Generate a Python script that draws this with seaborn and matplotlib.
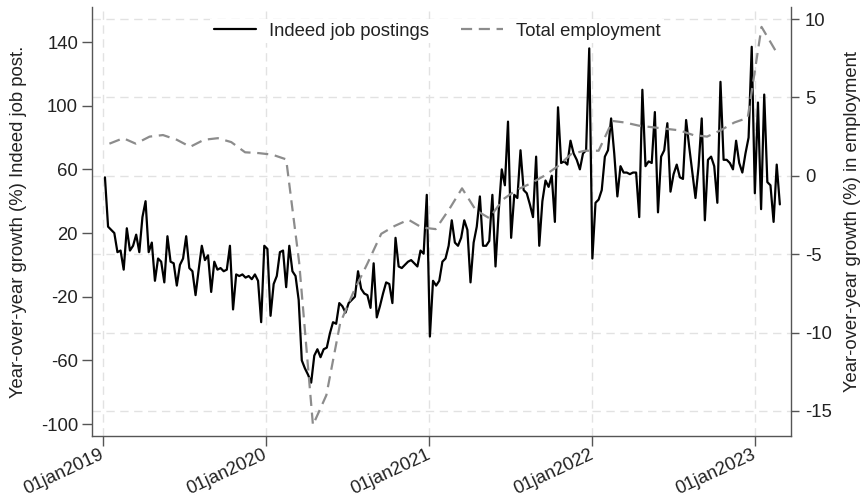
import numpy as np
import pandas as pd
import matplotlib
matplotlib.use("Agg")
import matplotlib.pyplot as plt
from matplotlib.lines import Line2D
from matplotlib.transforms import blended_transform_factory
import seaborn as sns

# Weekly year-over-year growth of Indeed job postings (%), starting 2019-01-05
postings_start = "2019-01-05"
postings_yoy = [
    55, 24, 22, 20, 8, 9, -3, 23, 9, 12, 19, 8, 30, 40, 8, 14, -10, 4, 2, -11,
    18, 2, 1, -13, 0, 4, 18, -2, -4, -19, -3, 12, 3, 6, -17, 2, -3, -2, -4, -3,
    12, -28,
    -6, -7, -6, -8, -7, -9, -6, -10, -36, 12, 10, -32, -12, -7, 8, 9, -14, 12,
    -4, -7, -22, -60, -65, -69, -74, -57, -53, -58, -53, -52, -43, -36, -37,
    -24, -26, -30, -24, -22, -20, -4, -15, -18, -19,
    -27, 1, -33, -26, -18, -11, -12, -24, 17, -1, -2, 0, 2, 3, 1, -1, 9, 7, 44,
    -45, -10, -13, -10, 2, 4, 12, 28, 14, 12, 17, 28, 22, -11, 14, 24, 43, 12,
    12, 15, 44, -1, 33, 60,
    50, 90, 17, 44, 42, 72, 47, 45, 38, 30, 68, 12, 40, 53, 49, 56, 27, 99, 64,
    65, 63, 78, 70, 66, 60, 70, 72, 136, 4, 39, 41, 47, 68, 72, 92, 70, 43, 62,
    58, 58, 57, 58, 58, 30,
    110, 62, 65, 64, 96, 33, 68, 72, 89, 46, 57, 63, 55, 54, 91, 74, 58, 42, 62,
    92, 28, 66, 68, 62, 39, 115, 66, 66, 64, 60, 78, 64, 58, 70, 80, 137, 45,
    102, 35, 107, 52, 50, 27, 63, 38,
]

# Monthly year-over-year growth of total employment (%), Jan 2019 - Feb 2023
employment_start = "2019-01-01"
employment_yoy = [
    2.05, 2.4, 2.05, 2.5, 2.6, 2.3, 1.85, 2.3, 2.4, 2.15, 1.5, 1.45,
    1.35, 1.05, -5.5, -15.9, -14.0, -9.4, -7.4, -5.6, -3.7, -3.2, -2.8, -3.3,
    -3.4, -2.1, -0.8, -2.2, -2.7, -1.5, -0.9, -0.5, 0.0, 0.6, 1.4, 1.6,
    1.6, 3.5, 3.4, 3.2, 3.1, 3.0, 2.9, 2.6, 2.5, 2.9, 3.4, 3.7,
    9.5, 8.0,
]

year_ticks = ["2019-01-01", "2020-01-01", "2021-01-01", "2022-01-01", "2023-01-01"]
year_labels = ["01jan2019", "01jan2020", "01jan2021", "01jan2022", "01jan2023"]
left_ticks = [-100, -60, -20, 20, 60, 100, 140]
right_ticks = [-15, -10, -5, 0, 5, 10]

sns.set_style("white")
plt.rcParams["font.family"] = ["Liberation Sans", "DejaVu Sans"]
plt.rcParams["font.size"] = 13.3

postings = pd.DataFrame({
    "date": pd.date_range(postings_start, periods=len(postings_yoy), freq="7D"),
    "yoy": postings_yoy,
})
employment = pd.DataFrame({
    "date": pd.date_range(employment_start, periods=len(employment_yoy), freq="MS")
    + pd.Timedelta(days=14),
    "yoy": employment_yoy,
})

fig = plt.figure(figsize=(8.63, 4.96), dpi=100)
ax = fig.add_axes([92 / 863, 60 / 496, 699 / 863, 429 / 496])
ax2 = ax.twinx()

spine_color = "#555555"
grid_color = "#e2e2e2"
text_color = "#222222"

# vertical grid at year starts, horizontal grid at the employment ticks
ax.set_axisbelow(True)
ax.grid(axis="x", color=grid_color, linestyle=(0, (6, 4)), linewidth=1.0)
ax.grid(axis="y", visible=False)
ax2.grid(False)
hgrid_tf = blended_transform_factory(ax.transAxes, ax2.transData)
for v in right_ticks:
    ax.add_line(Line2D([0, 1], [v, v], transform=hgrid_tf, color=grid_color,
                       linestyle=(0, (6, 4)), linewidth=1.0, zorder=0.5))

sns.lineplot(data=postings, x="date", y="yoy", ax=ax, color="black",
             linewidth=1.6, label="Indeed job postings", legend=False)
sns.lineplot(data=employment, x="date", y="yoy", ax=ax2, color="#8c8c8c",
             linewidth=1.6, linestyle=(0, (5, 3)), label="Total employment",
             legend=False)

ax.set_xlim(pd.Timestamp("2018-12-07"), pd.Timestamp("2023-03-22"))
ax.set_ylim(-107.5, 162)
ax2.set_ylim(-16.6, 10.77)

ax.set_xticks(pd.to_datetime(year_ticks))
ax.set_xticklabels(year_labels, rotation=25, ha="right", va="center",
                   rotation_mode="anchor", color=text_color)
ax.set_yticks(left_ticks)
ax.set_yticklabels([str(t) for t in left_ticks], color=text_color)
ax2.set_yticks(right_ticks)
ax2.set_yticklabels([str(t) for t in right_ticks], color=text_color)

ax.tick_params(axis="x", bottom=True, direction="out", length=7, width=1,
               color=spine_color, pad=6)
ax.tick_params(axis="y", left=True, direction="out", length=7, width=1,
               color=spine_color, pad=3)
ax2.tick_params(axis="y", right=True, direction="out", length=6, width=1,
                color=spine_color, pad=4)

ax.set_xlabel("")
ax.set_ylabel("Year-over-year growth (%) Indeed job post.", color=text_color,
              labelpad=10)
ax2.set_ylabel("Year-over-year growth (%) in employment", color=text_color,
               labelpad=9)

for name, sp in ax.spines.items():
    sp.set_visible(name in ("left", "bottom"))
    sp.set_color(spine_color)
    sp.set_linewidth(1.0)
for name, sp in ax2.spines.items():
    sp.set_visible(name == "right")
    sp.set_color(spine_color)
    sp.set_linewidth(1.0)

handles = [ax.get_lines()[-1], ax2.get_lines()[-1]]
leg = ax2.legend(handles, ["Indeed job postings", "Total employment"],
                 loc="center", bbox_to_anchor=(0.494, 0.944), ncol=2,
                 frameon=True, fancybox=False, facecolor="white",
                 edgecolor="none", framealpha=1.0, handlelength=2.3,
                 handletextpad=0.7, columnspacing=1.7, borderpad=0.2)
for t in leg.get_texts():
    t.set_color(text_color)

fig.savefig("out.png", dpi=100)
